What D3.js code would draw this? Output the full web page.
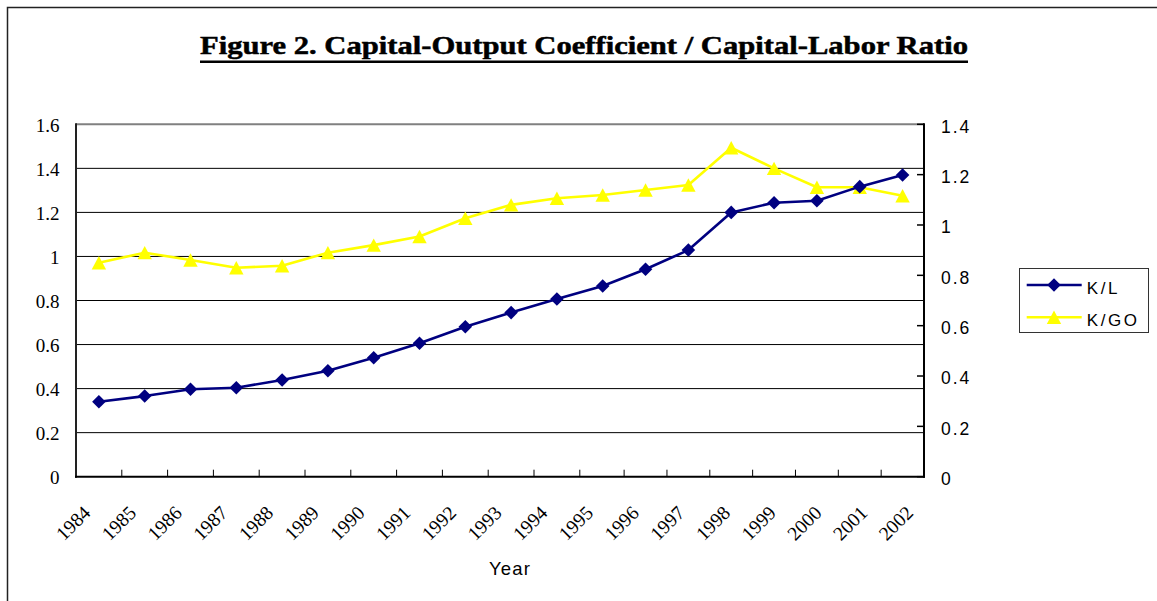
<!DOCTYPE html>
<html>
<head>
<meta charset="utf-8">
<script src="https://cdn.jsdelivr.net/npm/d3@7"></script>
<style>
  html, body { margin: 0; padding: 0; background: #fff; overflow: hidden; }
  svg { display: block; }
</style>
</head>
<body>
<svg id="chart" width="1157" height="601"></svg>
<script>
// ---------------- data ----------------
const years = ["1984","1985","1986","1987","1988","1989","1990","1991","1992","1993",
               "1994","1995","1996","1997","1998","1999","2000","2001","2002"];
const klValues  = [0.340, 0.366, 0.397, 0.404, 0.439, 0.481, 0.540, 0.606, 0.681, 0.745,
                   0.807, 0.866, 0.942, 1.029, 1.200, 1.244, 1.253, 1.317, 1.370];
const kgoValues = [0.850, 0.890, 0.861, 0.830, 0.838, 0.890, 0.920, 0.954, 1.027, 1.080,
                   1.106, 1.119, 1.139, 1.159, 1.307, 1.225, 1.150, 1.150, 1.116];
const leftTicks  = [0, 0.2, 0.4, 0.6, 0.8, 1.0, 1.2, 1.4, 1.6];
const rightTicks = [0, 0.2, 0.4, 0.6, 0.8, 1.0, 1.2, 1.4];
const seriesNames = ["K/L", "K/GO"];
const titleText = "Figure 2. Capital-Output Coefficient / Capital-Labor Ratio";
const xTitle = "Year";

// ---------------- layout ----------------
const svg = d3.select("#chart");
const plotLeft = 76, plotRight = 924, plotTop = 124.3, plotBottom = 476.7;
const navy = "#000080", yellow = "#FFFF00";
const serif = "'Liberation Serif','Times New Roman',serif";
const sans = "'Liberation Sans',Arial,sans-serif";

const xBand = d3.scaleLinear().domain([0, 11.5, years.length]).range([plotLeft, 602.7, plotRight]);
const xLabel = d3.scaleLinear().domain([0, years.length - 1]).range([91.7, 914.3]);
const yLeft = d3.scaleLinear().domain([0, 1.6]).range([plotBottom, plotTop]);
const yRight = d3.scaleLinear().domain([0, 1.4]).range([plotBottom, plotTop]);
const fmt = v => String(+v.toFixed(1));

// outer chart border
svg.append("rect").attr("x", 7.5).attr("y", 7.5).attr("width", 1200).attr("height", 700)
  .attr("fill", "none").attr("stroke", "#222").attr("stroke-width", 1.5);

// title
svg.append("text")
  .attr("x", 584).attr("y", 54).attr("text-anchor", "middle")
  .attr("font-family", serif).attr("font-weight", "bold").attr("font-size", 26)
  .attr("textLength", 768).attr("lengthAdjust", "spacingAndGlyphs")
  .attr("fill", "#000").attr("stroke", "#000").attr("stroke-width", 0.5)
  .text(titleText);
svg.append("line").attr("x1", 200).attr("x2", 968).attr("y1", 61.8).attr("y2", 61.8)
  .attr("stroke", "#000").attr("stroke-width", 2.6);

// gridlines
svg.append("g").selectAll("line").data(leftTicks.filter(d => d > 0 && d < 1.6)).join("line")
  .attr("x1", plotLeft).attr("x2", plotRight)
  .attr("y1", d => yLeft(d)).attr("y2", d => yLeft(d))
  .attr("stroke", "#000").attr("stroke-width", 1);

// plot area top border
svg.append("line").attr("x1", plotLeft).attr("x2", plotRight)
  .attr("y1", plotTop).attr("y2", plotTop)
  .attr("stroke", "#808080").attr("stroke-width", 2);

// left axis
svg.append("line").attr("x1", plotLeft).attr("x2", plotLeft)
  .attr("y1", plotTop - 1).attr("y2", plotBottom + 1)
  .attr("stroke", "#222").attr("stroke-width", 2);
svg.append("g").selectAll("text").data(leftTicks).join("text")
  .attr("x", 59.5).attr("y", d => yLeft(d) + 7.2)
  .attr("text-anchor", "end").attr("font-family", serif).attr("font-size", 19)
  .attr("fill", "#000").text(fmt);

// right axis
svg.append("line").attr("x1", plotRight).attr("x2", plotRight)
  .attr("y1", plotTop - 1).attr("y2", plotBottom + 1)
  .attr("stroke", "#000").attr("stroke-width", 2);
svg.append("g").selectAll("line").data(rightTicks).join("line")
  .attr("x1", plotRight - 7).attr("x2", plotRight)
  .attr("y1", d => yRight(d)).attr("y2", d => yRight(d))
  .attr("stroke", "#000").attr("stroke-width", 1.5);
svg.append("g").selectAll("text").data(rightTicks).join("text")
  .attr("x", 941).attr("y", d => yRight(d) + 8.4)
  .attr("text-anchor", "start").attr("font-family", sans).attr("font-size", 17.5)
  .attr("letter-spacing", 2).attr("fill", "#000").text(fmt);

// bottom axis
svg.append("line").attr("x1", plotLeft - 1).attr("x2", plotRight + 1)
  .attr("y1", plotBottom).attr("y2", plotBottom)
  .attr("stroke", "#000").attr("stroke-width", 2);
svg.append("g").selectAll("line").data(d3.range(1, years.length)).join("line")
  .attr("x1", d => xBand(d)).attr("x2", d => xBand(d))
  .attr("y1", plotBottom - 7).attr("y2", plotBottom)
  .attr("stroke", "#000").attr("stroke-width", 1);
svg.append("g").selectAll("text").data(years).join("text")
  .attr("text-anchor", "end").attr("font-family", serif).attr("font-size", 19.5)
  .attr("fill", "#000")
  .attr("transform", (d, i) => `translate(${xLabel(i)},514) rotate(-45)`)
  .text(d => d);
svg.append("text").attr("x", 510).attr("y", 575).attr("text-anchor", "middle")
  .attr("font-family", sans).attr("font-size", 18.5).attr("letter-spacing", 1.2)
  .attr("fill", "#000").text(xTitle);

// markers
const diamond = d3.symbol().type(d3.symbolSquare).size(92)();
function trianglePath(w, h) {
  const p = d3.path();
  p.moveTo(0, -h / 2); p.lineTo(w / 2, h / 2); p.lineTo(-w / 2, h / 2); p.closePath();
  return p.toString();
}
const triangle = trianglePath(14.4, 13.4);

// K/GO series (right axis)
const lineGO = d3.line().x((d, i) => xBand(i + 0.5)).y(d => yRight(d));
svg.append("path").datum(kgoValues).attr("d", lineGO)
  .attr("fill", "none").attr("stroke", yellow).attr("stroke-width", 2.6)
  .attr("stroke-linejoin", "round");
svg.append("g").selectAll("path").data(kgoValues).join("path")
  .attr("d", triangle).attr("fill", yellow)
  .attr("transform", (d, i) => `translate(${xBand(i + 0.5)},${yRight(d)})`);

// K/L series (left axis)
const lineKL = d3.line().x((d, i) => xBand(i + 0.5)).y(d => yLeft(d));
svg.append("path").datum(klValues).attr("d", lineKL)
  .attr("fill", "none").attr("stroke", navy).attr("stroke-width", 2.6)
  .attr("stroke-linejoin", "round");
svg.append("g").selectAll("path").data(klValues).join("path")
  .attr("d", diamond).attr("fill", navy)
  .attr("transform", (d, i) => `translate(${xBand(i + 0.5)},${yLeft(d)}) rotate(45)`);

// legend
const lg = svg.append("g");
lg.append("rect").attr("x", 1019.5).attr("y", 268.5).attr("width", 129).attr("height", 64)
  .attr("fill", "#fff").attr("stroke", "#333").attr("stroke-width", 1);
const legendItems = [
  { name: seriesNames[0], color: navy, marker: diamond, rot: 45, y: 285 },
  { name: seriesNames[1], color: yellow, marker: triangle, rot: 0, y: 317.3 }
];
legendItems.forEach(it => {
  lg.append("line").attr("x1", 1026.7).attr("x2", 1081.7).attr("y1", it.y).attr("y2", it.y)
    .attr("stroke", it.color).attr("stroke-width", 2.6);
  lg.append("path").attr("d", it.marker).attr("fill", it.color)
    .attr("transform", `translate(1054,${it.y}) rotate(${it.rot})`);
  lg.append("text").attr("x", 1086.7).attr("y", it.y + 8.6)
    .attr("font-family", sans).attr("font-size", 17).attr("letter-spacing", 2.6)
    .attr("fill", "#000").text(it.name);
});
</script>
</body>
</html>
